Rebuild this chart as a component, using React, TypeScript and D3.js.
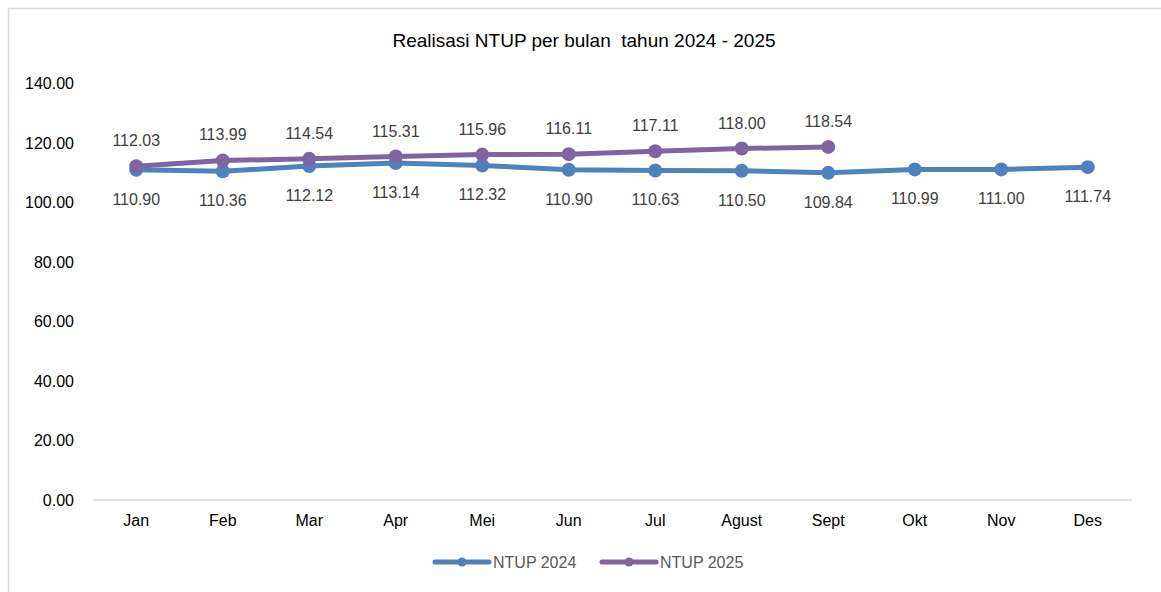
import React from "react";
import * as d3 from "d3";

const months = ["Jan", "Feb", "Mar", "Apr", "Mei", "Jun", "Jul", "Agust", "Sept", "Okt", "Nov", "Des"];
const ntup2024 = [110.9, 110.36, 112.12, 113.14, 112.32, 110.9, 110.63, 110.5, 109.84, 110.99, 111.0, 111.74];
const ntup2025 = [112.03, 113.99, 114.54, 115.31, 115.96, 116.11, 117.11, 118.0, 118.54];
const yTicks = [0, 20, 40, 60, 80, 100, 120, 140];

const W = 1161;
const H = 592;
const FONT = "'Liberation Sans', Arial, sans-serif";
const BLUE = "#4f81bd";
const PURPLE = "#8064a2";

export default function App() {
  const x = d3.scaleBand<string>().domain(months).range([93, 1131]);
  const y = d3.scaleLinear().domain([0, 140]).range([500, 83]);
  const cx = (m: string) => (x(m) as number) + x.bandwidth() / 2;
  const line = d3
    .line<number>()
    .x((_, i) => cx(months[i]))
    .y((d) => y(d));

  const series = [
    { name: "NTUP 2024", data: ntup2024, color: BLUE, labelDy: 35 },
    { name: "NTUP 2025", data: ntup2025, color: PURPLE, labelDy: -20 },
  ];

  return (
    <svg
      width={W}
      height={H}
      style={{ position: "absolute", left: 0, top: 0, background: "#fff" }}
      fontFamily={FONT}
    >
      <rect x={8.5} y={8.5} width={W + 10} height={H + 10} fill="#fff" stroke="#d9d9d9" strokeWidth={1.5} />
      <text x={584} y={47} textAnchor="middle" fontSize={19} fill="#000" style={{ whiteSpace: "pre" }}>
        {"Realisasi NTUP per bulan  tahun 2024 - 2025"}
      </text>
      {yTicks.map((t) => (
        <text key={t} x={74} y={y(t) + 6} textAnchor="end" fontSize={16} fill="#000">
          {t.toFixed(2)}
        </text>
      ))}
      <line x1={93} x2={1132} y1={y(0)} y2={y(0)} stroke="#d9d9d9" strokeWidth={1.5} />
      {months.map((m) => (
        <text key={m} x={cx(m)} y={526} textAnchor="middle" fontSize={16} fill="#000">
          {m}
        </text>
      ))}
      {series.map((s) => (
        <g key={s.name}>
          <path d={line(s.data) as string} fill="none" stroke={s.color} strokeWidth={5} strokeLinejoin="round" strokeLinecap="round" />
          {s.data.map((v, i) => (
            <circle key={i} cx={cx(months[i])} cy={y(v)} r={7} fill={s.color} />
          ))}
        </g>
      ))}
      {series.map((s) => (
        <g key={s.name + "-labels"}>
          {s.data.map((v, i) => (
            <text key={i} x={cx(months[i])} y={y(v) + s.labelDy} textAnchor="middle" fontSize={16} fill="#404040">
              {v.toFixed(2)}
            </text>
          ))}
        </g>
      ))}
      {series.map((s, i) => {
        const lx = 435 + i * 167;
        return (
          <g key={s.name + "-legend"}>
            <line x1={lx} x2={lx + 54} y1={562} y2={562} stroke={s.color} strokeWidth={5} strokeLinecap="round" />
            <circle cx={lx + 27} cy={562} r={4.5} fill={s.color} />
            <text x={lx + 58} y={568} fontSize={16} fill="#595959">
              {s.name}
            </text>
          </g>
        );
      })}
    </svg>
  );
}
